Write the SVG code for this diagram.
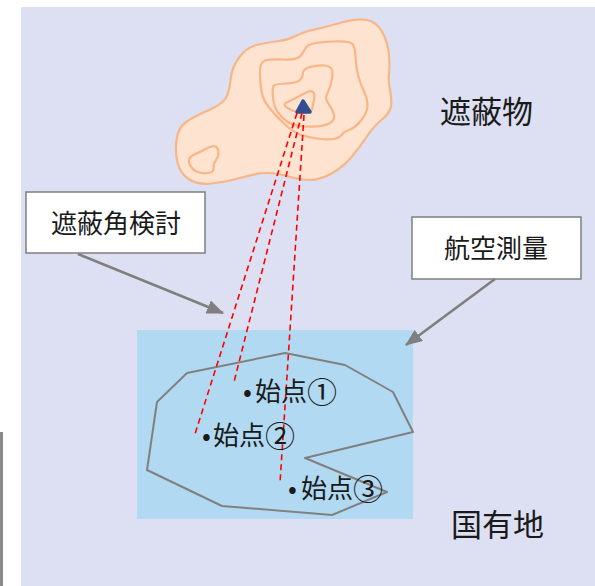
<svg xmlns="http://www.w3.org/2000/svg" width="595" height="586" viewBox="0 0 595 586">
  <defs>
    <style>
      .jp { font-family: "Noto Sans CJK JP", "Noto Sans CJK SC", sans-serif; fill: #1a1a1a; }
      .num { font-size: 30px; }
      .contour { fill: none; stroke: #F8B587; stroke-width: 2.2; stroke-linejoin: round; }
      .label-box { fill: #FFFFFF; stroke: #7F7F7F; stroke-width: 1.5; }
      .pointer { fill: none; stroke: #7F7F7F; stroke-width: 2.6; marker-end: url(#head); }
      .sight { fill: none; stroke: #FF0000; stroke-width: 1.6; stroke-dasharray: 6 4; }
    </style>
    <marker id="head" viewBox="0 0 17 14" refX="16" refY="7" markerWidth="17" markerHeight="14" markerUnits="userSpaceOnUse" orient="auto">
      <path d="M0,0 L17,7 L0,14 z" fill="#7F7F7F"/>
    </marker>
  </defs>

  <!-- page background -->
  <rect x="0" y="0" width="595" height="586" fill="#FFFFFF"/>
  <rect x="21" y="7" width="574" height="579" fill="#DCE0F2"/>
  <rect x="0" y="432" width="3" height="154" fill="#8A8A8A"/>

  <!-- obstacle: mountain with contour lines -->
  <g id="obstacle">
    <path class="contour" style="fill:#FEE3D0"
      d="M177.5,162.5 Q175,152 176.5,140 Q178,128 185.5,122.5 Q193,117 209,110 Q225,103 227.5,95 Q230,87 231,77 Q232,67 239.5,57 Q247,47 258.5,44.5 Q270,42 279,41 Q288,40 295.5,36 Q303,32 316.5,29 Q330,26 343.5,22 Q357,18 367,20 Q377,22 382.5,32.5 Q388,43 389,55 Q390,67 389,73.5 Q388,80 390,90 Q392,100 391,106.5 Q390,113 381.5,120 Q373,127 366.5,137 Q360,147 351.5,157 Q343,167 331.5,173.5 Q320,180 310,180 Q300,180 288.5,176.5 Q277,173 267,173 Q257,173 242,177.5 Q227,182 212,183.5 Q197,185 188.5,179 Q180,173 177.5,162.5 Z"/>
    <path class="contour"
      d="M260,72.5 Q260,62 265,60.5 Q270,59 283.5,59.5 Q297,60 300,56.5 Q303,53 305,49 Q307,45 313.5,43.5 Q320,42 335,41.5 Q350,41 352.5,44 Q355,47 355.5,57 Q356,67 358,75 Q360,83 364,91.5 Q368,100 367.5,106.5 Q367,113 361,120.5 Q355,128 349,130 Q343,132 341.5,135 Q340,138 333.5,139 Q327,140 317,138.5 Q307,137 300,134.5 Q293,132 284,123.5 Q275,115 269,107.5 Q263,100 261.5,91.5 Q260,83 260,72.5 Z"/>
    <path class="contour"
      d="M273,97.5 Q272,88 273.5,86 Q275,84 286,83.5 Q297,83 300,80 Q303,77 303,73 Q303,69 310,67 Q317,65 324.5,65.5 Q332,66 332.5,72 Q333,78 330.5,85 Q328,92 326.5,95.5 Q325,99 329,104.5 Q333,110 334,115 Q335,120 330,123 Q325,126 316,126.5 Q307,127 299.5,126 Q292,125 287,121.5 Q282,118 278,112.5 Q274,107 273,97.5 Z"/>
    <path class="contour"
      d="M285.5,106.5 Q283,104 287.5,102 Q292,100 297.5,97 Q303,94 307.5,92 Q312,90 313.5,92.5 Q315,95 314,100 Q313,105 312,109 Q311,113 305.5,113 Q300,113 294,111 Q288,109 285.5,106.5 Z"/>
    <path class="contour"
      d="M189.5,164 Q187,158 193.5,155 Q200,152 206.5,148.5 Q213,145 215.5,146.5 Q218,148 218.5,152 Q219,156 216,160 Q213,164 213.5,168 Q214,172 208.5,173 Q203,174 197.5,172 Q192,170 189.5,164 Z"/>
    <polygon points="303,101 297,112 310,112" fill="#354D91" stroke="#354D91" stroke-width="3.5" stroke-linejoin="round"/>
  </g>

  <!-- state-owned land area -->
  <g id="land">
    <rect x="137" y="330" width="276" height="189" fill="#B1D9F1"/>
    <polygon points="187,373 285,353 345,365 393,392 413,432 305,458 387,492 332,515 222,506 147,470 157,402"
      fill="none" stroke="#808080" stroke-width="2" stroke-linejoin="round"/>
  </g>

  <!-- lines of sight from each start point to the summit -->
  <g id="sight-lines">
    <line class="sight" x1="297" y1="113" x2="195" y2="434"/>
    <line class="sight" x1="302" y1="113" x2="234" y2="382"/>
    <line class="sight" x1="304" y1="115" x2="280" y2="483"/>
  </g>

  <!-- callout boxes -->
  <g id="box-shielding-angle">
    <rect class="label-box" x="26" y="192" width="179" height="61"/>
    <text class="jp" x="116" y="233" font-size="26" text-anchor="middle">遮蔽角検討</text>
  </g>
  <g id="box-aerial-survey">
    <rect class="label-box" x="412" y="217" width="169" height="62"/>
    <text class="jp" x="496" y="258" font-size="26" text-anchor="middle">航空測量</text>
  </g>

  <!-- connectors from callouts -->
  <g id="connectors">
    <line class="pointer" x1="78" y1="254" x2="223" y2="313"/>
    <line class="pointer" x1="495" y1="279" x2="406" y2="345"/>
  </g>

  <!-- plain labels -->
  <g id="label-obstacle">
    <text class="jp" x="440" y="123" font-size="31">遮蔽物</text>
  </g>
  <g id="label-land">
    <text class="jp" x="451" y="536" font-size="31">国有地</text>
  </g>

  <!-- start points -->
  <g id="start-1">
    <text class="jp" y="401" font-size="26"><tspan x="243">•</tspan><tspan x="255">始点</tspan><tspan class="num" dy="2">①</tspan></text>
  </g>
  <g id="start-2">
    <text class="jp" y="445" font-size="26"><tspan x="202">•</tspan><tspan x="213">始点</tspan><tspan class="num" dy="2">②</tspan></text>
  </g>
  <g id="start-3">
    <text class="jp" y="498" font-size="26"><tspan x="288">•</tspan><tspan x="301">始点</tspan><tspan class="num" dy="2">③</tspan></text>
  </g>
</svg>
